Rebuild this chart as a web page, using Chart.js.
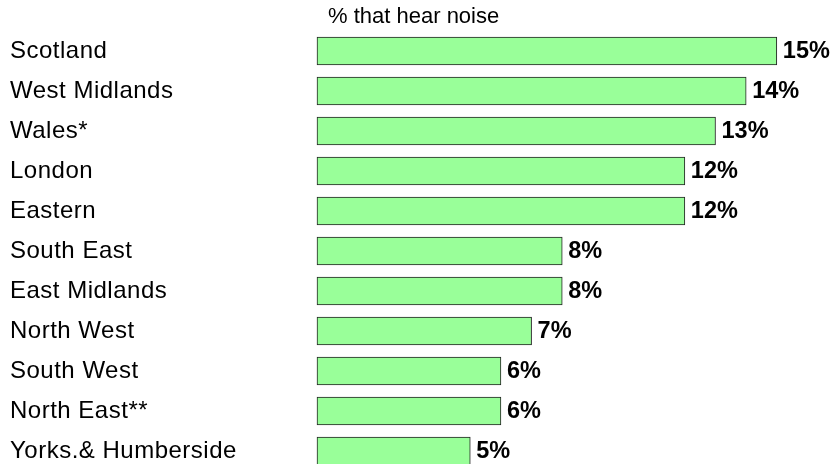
<!DOCTYPE html>
<html>
<head>
<meta charset="utf-8">
<script src="https://cdn.jsdelivr.net/npm/chart.js@4.4.1/dist/chart.umd.min.js"></script>
<style>
  html, body { margin: 0; padding: 0; background: #ffffff; overflow: hidden; }
  #wrap { width: 833px; height: 464px; }
</style>
</head>
<body>
<div id="wrap"><canvas id="c" width="833" height="464"></canvas></div>
<script>
const categories = ["Scotland", "West Midlands", "Wales*", "London", "Eastern", "South East", "East Midlands", "North West", "South West", "North East**", "Yorks.& Humberside"];
const hearNoise = [15, 14, 13, 12, 12, 8, 8, 7, 6, 6, 5];
const titleText = "% that hear noise";

const FONT = "'Liberation Sans', Arial, Helvetica, sans-serif";

// widen the category labels very slightly, as in the reference rendering
const labelSpacing = {
  id: 'labelSpacing',
  beforeDraw(chart) { chart.ctx.letterSpacing = '0.5px'; },
  beforeDatasetsDraw(chart) { chart.ctx.letterSpacing = '0px'; }
};

const valueLabels = {
  id: 'valueLabels',
  afterDatasetsDraw(chart) {
    const ctx = chart.ctx;
    const meta = chart.getDatasetMeta(0);
    ctx.save();
    ctx.font = "bold 23.5px " + FONT;
    ctx.fillStyle = '#000000';
    ctx.textAlign = 'left';
    ctx.textBaseline = 'middle';
    meta.data.forEach((bar, i) => {
      ctx.fillText(hearNoise[i] + '%', bar.x + 6, bar.y + 1);
    });
    ctx.restore();
  }
};

const titleDraw = {
  id: 'titleDraw',
  afterDraw(chart) {
    const ctx = chart.ctx;
    ctx.save();
    ctx.font = "22px " + FONT;
    ctx.fillStyle = '#000000';
    ctx.textAlign = 'left';
    ctx.textBaseline = 'middle';
    ctx.fillText(titleText, chart.chartArea.left + 11, 17);
    ctx.restore();
  }
};

new Chart(document.getElementById('c'), {
  type: 'bar',
  data: {
    labels: categories,
    datasets: [{
      data: hearNoise,
      backgroundColor: '#99ff99',
      borderColor: '#222222',
      borderWidth: 1,
      borderSkipped: false,
      barThickness: 28,
      clip: false
    }]
  },
  options: {
    indexAxis: 'y',
    responsive: false,
    animation: false,
    devicePixelRatio: 1,
    layout: { padding: { left: 10, top: 51, right: 1, bottom: 13 } },
    plugins: {
      legend: { display: false },
      tooltip: { enabled: false },
      title: { display: false }
    },
    scales: {
      x: {
        display: false,
        min: 0,
        max: 16.8
      },
      y: {
        offset: false,
        grid: { display: false, drawTicks: false },
        border: { display: false },
        ticks: {
          crossAlign: 'far',
          color: '#000000',
          padding: 0,
          font: { family: FONT, size: 24 }
        },
        afterFit(scale) {
          scale.width = 307;
          scale.paddingTop = 0;
          scale.paddingBottom = 0;
        }
      }
    }
  },
  plugins: [labelSpacing, valueLabels, titleDraw]
});
</script>
</body>
</html>
